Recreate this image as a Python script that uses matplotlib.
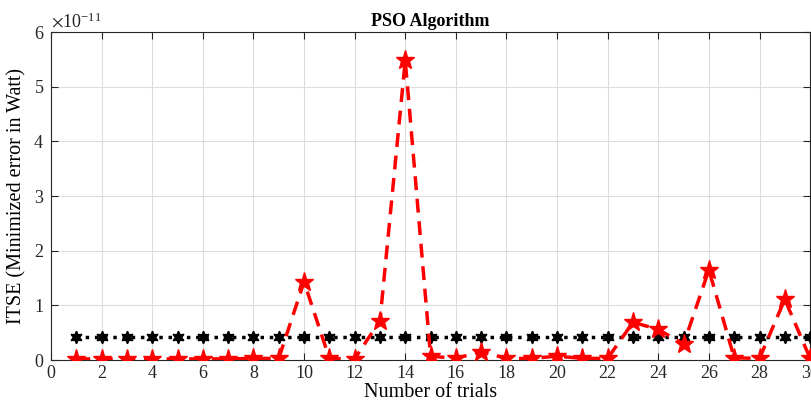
import matplotlib
import matplotlib.pyplot as plt
from matplotlib.ticker import ScalarFormatter

matplotlib.use("Agg")

# trial numbers and ITSE values (in units of 1e-11)
trials = list(range(1, 31))
itse_pso = [0.02, 0.02, 0.02, 0.02, 0.02, 0.02, 0.02, 0.03, 0.03, 1.43,
            0.03, 0.02, 0.72, 5.48, 0.07, 0.03, 0.15, 0.03, 0.03, 0.07,
            0.03, 0.03, 0.69, 0.56, 0.29, 1.65, 0.04, 0.03, 1.11, 0.03]
itse_ref = [0.42] * 30
scale = 1e-11

plt.rcParams["font.family"] = ["Liberation Serif", "DejaVu Serif"]
plt.rcParams["mathtext.fontset"] = "stix"

fig = plt.figure(figsize=(8.11, 4.12), dpi=100)
ax = fig.add_axes([0.0629, 0.1262, 0.936, 0.7961])

ax.plot(trials, [v * scale for v in itse_ref], linestyle=":", color="black",
        linewidth=2.5, marker=(6, 1, 0), markersize=9, zorder=3)
ax.plot(trials, [v * scale for v in itse_pso], linestyle="--", color="red",
        linewidth=2.5, dashes=(4, 2.5), marker="*", markersize=14, zorder=4)

ax.set_xlim(0, 30)
ax.set_ylim(0, 6e-11)
ax.set_xticks(range(0, 31, 2))
ax.set_yticks([i * scale for i in range(7)])

fmt = ScalarFormatter(useMathText=True)
fmt.set_powerlimits((0, 0))
ax.yaxis.set_major_formatter(fmt)
ax.yaxis.get_offset_text().set_fontsize(13)

ax.tick_params(direction="in", top=True, right=True, labelsize=13,
               length=5, width=0.8, colors="#262626")
ax.tick_params(axis="y", pad=5)
for s in ax.spines.values():
    s.set_color("#262626")
    s.set_linewidth(0.8)
ax.grid(True, color="#dcdcdc", linewidth=0.8)
ax.set_axisbelow(True)

ax.set_title("PSO Algorithm", fontsize=13, fontweight="bold", pad=4)
ax.set_xlabel("Number of trials", fontsize=14.5, labelpad=1)
ax.set_ylabel("ITSE (Minimized error in Watt)", fontsize=14.5, labelpad=5)

fig.savefig("out.png", dpi=100)
